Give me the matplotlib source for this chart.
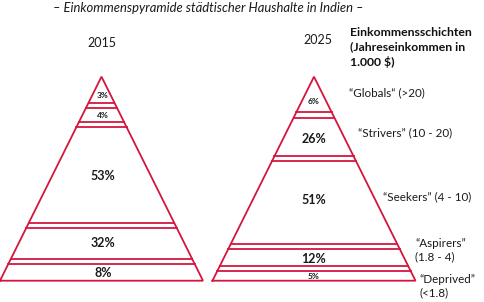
import matplotlib as mpl
import matplotlib.pyplot as plt

# data
years = ['2015', '2025']
shares_2015 = [3, 4, 53, 32, 8]
shares_2025 = [6, 26, 51, 12, 5]
segments = ['\u201cGlobals\u201c (>20)', '\u201cStrivers\u201d (10 - 20)', '\u201cSeekers\u201d (4 - 10)',
            '\u201cAspirers\u201d\n(1.8 - 4)', '\u201cDeprived\u201d\n(<1.8)']
title = '\u2013 Einkommenspyramide st\u00e4dtischer Haushalte in Indien \u2013'
legend_title = 'Einkommensschichten\n(Jahreseinkommen in\n1.000 $)'

# layout (pixels)
red = '#d4163f'
apex_y, base_y, half_w = 76.7, 280.7, 101.5
apex_x = [101.5, 314.0]
gap = 5.2
gap_tops = [[0.127, 0.222, 0.717, 0.894],
            [0.175, 0.390, 0.819, 0.926]]
label_y = [[95.5, 115.5, 176, 243, 273],
           [101, 139, 200, 259, 276.5]]
seg_pos = [(349, 93), (358, 133), (383, 197), (415, 250), (419, 286)]

mpl.rcParams['font.family'] = ['Lato', 'DejaVu Sans']

fig = plt.figure(figsize=(4.84, 3.02), dpi=100)
ax = fig.add_axes([0, 0, 1, 1])
ax.set_xlim(0, 484)
ax.set_ylim(302, 0)
ax.axis('off')


def width_at(y):
    return half_w * (y - apex_y) / (base_y - apex_y)


for i, shares in enumerate([shares_2015, shares_2025]):
    cx = apex_x[i]
    ax.plot([cx - half_w, cx, cx + half_w, cx - half_w],
            [base_y, apex_y, base_y, base_y], color=red, lw=1.3,
            solid_joinstyle='miter')
    for f in gap_tops[i]:
        y0 = apex_y + f * (base_y - apex_y)
        for y in (y0, y0 + gap):
            w = width_at(y)
            ax.plot([cx - w, cx + w], [y, y], color=red, lw=1.3)
    for j, s in enumerate(shares):
        small = s < 10 and not (i == 0 and j == 4)
        ax.text(cx + (1.5 if i == 0 else 0), label_y[i][j], f'{s}%',
                ha='center', va='center', fontsize=6 if small else 9,
                fontweight='bold', color='#1a1a1a')

ax.text(102, 43, years[0], ha='center', va='center', fontsize=9, color='#1a1a1a')
ax.text(318, 40, years[1], ha='center', va='center', fontsize=9, color='#1a1a1a')
ax.text(208, 8, title, ha='center', va='center', fontsize=9.4,
        style='italic', color='#1a1a1a')
ax.text(350, 47.5, legend_title, ha='left', va='center', fontsize=8.8,
        fontweight='bold', color='#111111', linespacing=1.32)

for (x, y), name in zip(seg_pos, segments):
    ax.text(x, y, name, ha='left', va='center', fontsize=8.4,
            color='#1a1a1a', linespacing=1.25)

fig.savefig('out.png', dpi=100)
